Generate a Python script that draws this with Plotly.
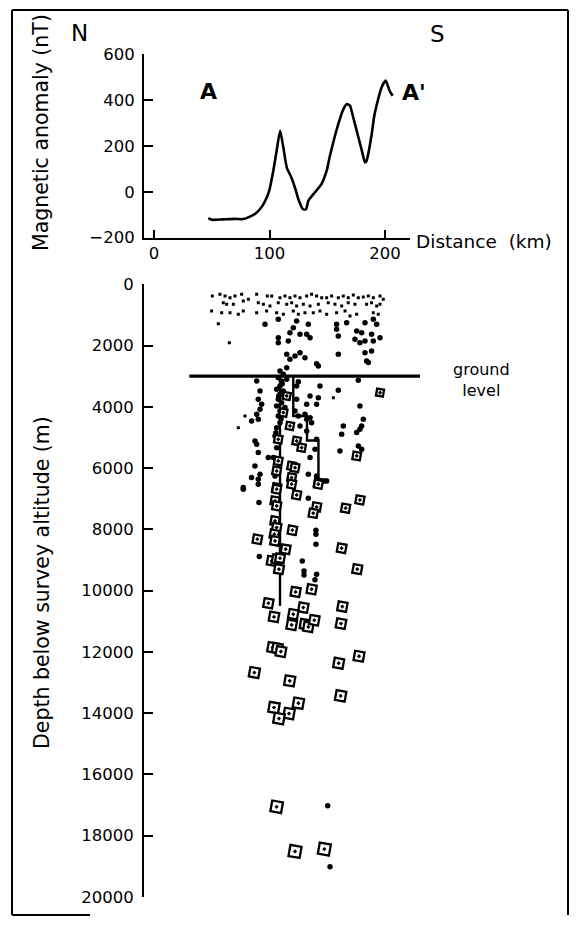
import plotly.graph_objects as go

# ---------------- data ----------------
# Magnetic anomaly profile A-A'
distance_km = [47, 50, 60, 70, 77, 83, 89, 94, 97.6, 100, 103.3, 106.2, 109.2, 112, 115, 119, 122, 125,
               129, 131.6, 133.6, 138, 145, 149.5, 152, 159.6, 164, 167, 169.7, 171, 177, 180, 182.7,
               184, 185.5, 188.5, 191, 197, 200.6, 204, 206.6]
anomaly_nT = [-115, -122, -120, -118, -119, -108, -90, -60, -25, 10, 92, 179, 266, 193, 106, 62, 19, -32,
              -76, -76, -39, -10, 34, 92, 150, 296, 361, 383, 376, 354, 237, 179, 128,
              135, 165, 252, 339, 455, 485, 441, 419]

# Depth solutions: small dots (shallow)
dot_km = [50.5, 57.1, 61.5, 65.8, 70.1, 75.9, 81.7, 88.9, 98.1, 101.9, 109.1, 113.4, 117.7, 122.1, 126.4,
          132.2, 136.5, 140.8, 145.2, 149.5, 153.8, 159.6, 163.9, 168.2, 172.6, 176.9, 181.2, 185.6, 189.9,
          195.7, 198.5,
          60.0, 62.9, 68.7, 77.3, 90.3, 94.7, 100.4, 107.6, 114.9, 119.2, 123.5, 129.3, 135.1, 142.3, 150.9,
          156.7, 162.5, 168.2, 174.0, 184.1, 188.4, 192.8, 195.7,
          49.9, 58.6, 65.8, 73.0, 77.3, 88.9, 97.5, 106.2, 112.0, 120.6, 125.0, 130.7, 137.9, 143.7, 149.5,
          158.1, 165.4, 169.7, 175.5, 189.9, 194.2,
          55.7, 65.2, 78.8, 73.0, 155.3]
dot_depth = [382, 327, 382, 436, 382, 327, 490, 327, 382, 382, 436, 382, 436, 382, 436,
             382, 327, 382, 436, 436, 382, 436, 382, 436, 349, 436, 414, 382, 436,
             382, 490,
             599, 654, 654, 545, 599, 654, 708, 599, 654, 599, 708, 654, 708, 654, 599,
             654, 708, 599, 654, 654, 599, 708, 654,
             871, 926, 926, 980, 871, 926, 871, 926, 980, 871, 980, 926, 926, 871, 980,
             926, 871, 1034, 980, 926, 980,
             1285, 1905, 4298, 4679, 3700]

# Depth solutions: solid symbols
solid_km = [96.1, 107.6, 123.5, 133.6, 158.1, 166.8, 182.7, 189.9, 192.8, 120.6, 117.7, 126.4, 132.2, 158.1,
            175.5, 188.4, 179.8, 195.7, 107.6, 107.6, 116.3, 135.1, 159.6, 174.0, 178.3, 182.7, 189.9,
            114.9, 117.7, 122.1, 126.4, 130.7, 140.8, 159.6, 182.7, 188.4, 184.1,
            114.9, 142.3, 185.6, 176.9,
            109.1, 112.0, 107.6, 110.5, 114.9, 109.1, 106.2, 112.0, 109.1, 107.6, 110.5, 106.2, 113.4, 109.1,
            107.6, 109.1, 106.2, 104.8, 106.2, 103.3, 104.8, 111.0, 108.0, 110.0, 105.5,
            88.9, 91.8, 90.3, 93.2, 91.8, 88.9, 90.3, 84.5, 87.4, 88.9, 90.3, 99.0, 87.4, 91.8, 90.3, 77.3, 84.5,
            125.0, 123.5, 143.7, 159.6, 135.1, 142.3, 132.2, 140.8, 123.5, 178.3, 122.1, 125.0, 130.7, 132.2,
            135.1, 136.5, 126.4, 132.2, 163.9, 162.5, 175.5, 181.2, 179.8, 178.3, 139.4, 135.1, 161.0, 176.9,
            179.8, 140.8, 133.6, 140.8, 149.5,
            77.3, 90.3, 148.0, 133.6, 90.9, 140.2, 140.2, 140.2, 91.2, 128.4, 129.9, 129.9, 140.8, 139.4,
            150.4, 152.4]
solid_depth = [1306, 1143, 1198, 1306, 1306, 1252, 1252, 1143, 1306, 1415, 1578, 1633, 1633, 1470,
               1524, 1633, 1578, 1742, 1742, 1905, 1850, 1742, 1687, 1796, 1905, 1850, 1850,
               2286, 2449, 2340, 2231, 2394, 2590, 2286, 2231, 2177, 2503,
               2721, 2666, 2557, 3134,
               2829, 2938, 3047, 3156, 3101, 3319, 3428, 3482, 3591, 3754, 3863, 3972, 4026, 4135,
               4298, 4516, 4679, 4951, 5332, 5658, 6257, 3250, 3650, 4400, 4850,
               3156, 3482, 3754, 3917, 4081, 4244, 4407, 4461, 5114, 5223, 5495, 5658, 5930, 6202, 6365, 6637, 6311,
               3178, 3319, 3319, 3460, 3645, 3700, 3917, 3917, 3754, 3972, 4135, 4298, 4244, 4407,
               4353, 4516, 4625, 4788, 4625, 4897, 4842, 4407, 4625, 4733, 5386, 5658, 5441, 5277,
               5386, 5060, 6202, 6257, 6420,
               6690, 6527, 6418, 6984, 7125, 8028, 8159, 8485, 8888, 9029, 9356, 9486, 9464, 9649,
               17024, 19015]

# Depth solutions: open symbols
open_km = [114.9, 112.0, 107.6, 107.6, 106.2, 106.2, 195.7, 117.7, 123.5, 127.8, 175.5, 119.2, 122.1, 119.2,
           142.3,
           106.2, 119.2, 142.3, 123.5, 178.3, 104.8, 106.2, 140.8, 137.9, 165.9, 104.8, 106.2, 104.2, 104.8,
           119.8, 162.5, 114.0, 89.5, 101.9, 106.2, 109.1, 108.2, 176.0, 122.6, 136.5, 99.0, 129.3, 163.1,
           103.9, 120.6, 119.2, 130.7, 133.6, 138.8, 161.9, 102.7, 106.8, 109.9, 177.5, 159.9, 86.9, 117.5,
           161.6, 125.0, 103.9, 116.9, 108.2,
           106.2, 122.1, 147.5]
open_depth = [3645, 4189, 5060, 5767, 6093, 6637, 3537, 4625, 5114, 5332, 5604, 5930, 5985, 6311,
              6474,
              6690, 6527, 6527, 6875, 7038, 7071, 7234, 7267, 7473, 7310, 7724, 7941, 8159, 8376,
              8028, 8616, 8648, 8322, 9029, 8975, 8942, 9301, 9301, 10041, 9954, 10411, 10552, 10520,
              10857, 10770, 11118, 11097, 11184, 10966, 11075, 11858, 11880, 11989, 12141, 12370, 12674, 12946,
              13436, 13675, 13817, 14012, 14176,
              17056, 18514, 18438]

# Ground level and interpreted body outline
ground_level_m = 3000
ground_extent_km = [30.6, 230.3]
left_edge_km = [109.1, 109.1]
left_edge_depth = [3000, 10500]
right_edge_km = [120.6, 120.6, 132.5, 132.5, 142.4, 142.4]
right_edge_depth = [3000, 4300, 4300, 5100, 5100, 6550]

anomaly_ticks = [-200, 0, 200, 400, 600]
distance_ticks = [0, 100, 200]
depth_ticks = list(range(0, 20001, 2000))

# ---------------- figure ----------------
W, H = 576, 925
FONT = "DejaVu Sans"
# vertical calibration of the photographed page (observed: shown_y = 8 + 0.9795 * y)
Y_OFF, Y_SCALE = 8.0, 0.9795


def px_x(p):
    return p / W


def px_y(p):
    y = (p - Y_OFF) / Y_SCALE
    return min(1.0, max(0.0, 1 - y / H))


fig = go.Figure()

fig.add_trace(go.Scatter(x=distance_km, y=anomaly_nT, mode="lines",
                         line=dict(color="black", width=2.6, shape="spline", smoothing=0.6),
                         xaxis="x", yaxis="y", showlegend=False, hoverinfo="skip"))

fig.add_trace(go.Scatter(x=ground_extent_km, y=[ground_level_m, ground_level_m], mode="lines",
                         line=dict(color="black", width=3.2), xaxis="x2", yaxis="y2", showlegend=False))
fig.add_trace(go.Scatter(x=left_edge_km, y=left_edge_depth, mode="lines",
                         line=dict(color="black", width=2.4), xaxis="x2", yaxis="y2", showlegend=False))
fig.add_trace(go.Scatter(x=right_edge_km, y=right_edge_depth, mode="lines",
                         line=dict(color="black", width=2.4), xaxis="x2", yaxis="y2", showlegend=False))

fig.add_trace(go.Scatter(x=dot_km, y=dot_depth, mode="markers",
                         marker=dict(symbol="square", size=3, color="black", line=dict(width=0)),
                         xaxis="x2", yaxis="y2", showlegend=False))
fig.add_trace(go.Scatter(x=solid_km, y=solid_depth, mode="markers",
                         marker=dict(symbol="circle", size=5.5, color="black", line=dict(width=0)),
                         xaxis="x2", yaxis="y2", showlegend=False))
fig.add_trace(go.Scatter(x=open_km, y=open_depth, mode="markers",
                         marker=dict(symbol="square-dot", angle=10,
                                     size=[6 + d / 3500 for d in open_depth],
                                     color="white", opacity=1,
                                     line=dict(width=2.3, color="black")),
                         xaxis="x2", yaxis="y2", showlegend=False))

axis_common = dict(showgrid=False, zeroline=False, showline=True, linecolor="black", linewidth=2,
                   ticks="inside", tickcolor="black", tickwidth=2,
                   tickfont=dict(family=FONT, size=16.5, color="black"))

fig.update_layout(
    width=W, height=H, autosize=False,
    margin=dict(l=0, r=0, t=0, b=0, pad=0),
    paper_bgcolor="white", plot_bgcolor="rgba(0,0,0,0)",
    xaxis=dict(domain=[px_x(144), px_x(410)], range=[-8.66, 221.65], anchor="y",
               tickvals=distance_ticks, ticklen=8, ticklabelstandoff=0, **axis_common),
    yaxis=dict(domain=[px_y(236.7), px_y(53.3)], range=[-200, 600], anchor="x",
               tickvals=anomaly_ticks, ticklen=9, ticklabelstandoff=4, **axis_common),
    xaxis2=dict(domain=[px_x(144), 1.0], range=[-8.66, 365.4], anchor="y2", visible=False),
    yaxis2=dict(domain=[px_y(896), px_y(283.3)], range=[20000, 0], anchor="x2",
                tickvals=depth_ticks, tickformat="d", ticklen=9, ticklabelstandoff=5, **axis_common),
)

annots = [
    dict(text="Magnetic anomaly (nT)", x=px_x(41), y=px_y(132), textangle=-90, size=20.5, bold=False),
    dict(text="Depth below survey altitude (m)", x=px_x(42), y=px_y(582), textangle=-90, size=20.5, bold=False),
    dict(text="N", x=px_x(79), y=px_y(32), textangle=0, size=23, bold=False),
    dict(text="S", x=px_x(437), y=px_y(33), textangle=0, size=23, bold=False),
    dict(text="A", x=px_x(208.5), y=px_y(91), textangle=0, size=22, bold=True),
    dict(text="A'", x=px_x(414), y=px_y(92), textangle=0, size=22, bold=True),
]
for a in annots:
    fig.add_annotation(text=("<b>%s</b>" % a["text"]) if a["bold"] else a["text"],
                       x=a["x"], y=a["y"], xref="paper", yref="paper", showarrow=False,
                       textangle=a["textangle"], xanchor="center", yanchor="middle",
                       font=dict(family=FONT, size=a["size"], color="black"))

fig.add_annotation(text="Distance  (km)", x=px_x(414), y=px_y(241), xref="paper", yref="paper",
                   showarrow=False, xanchor="left", yanchor="middle",
                   font=dict(family=FONT, size=18.5, color="black"))
fig.add_annotation(text="ground<br>level", x=px_x(481), y=px_y(379), xref="paper", yref="paper",
                   showarrow=False, xanchor="center", yanchor="middle", align="center",
                   font=dict(family=FONT, size=16, color="black"))

frame = [
    (12, 9, 12, 922),
    (12, 9, 568, 9),
    (568, 9, 568, 922),
    (12, 922, 90, 922),
]
for x0, y0, x1, y1 in frame:
    fig.add_shape(type="line", xref="paper", yref="paper",
                  x0=px_x(x0), y0=px_y(y0), x1=px_x(x1), y1=px_y(y1),
                  line=dict(color="black", width=2))

fig.write_html("out.html", config={"displayModeBar": False},
               post_script="document.body.style.margin='0px';")
